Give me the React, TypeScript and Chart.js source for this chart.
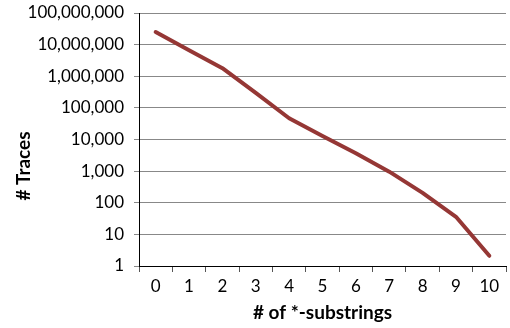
import React, { useEffect, useRef } from "react";
import { Chart, registerables } from "chart.js";

Chart.register(...registerables);

// Number of *-substrings on the x axis, and trace counts (log scale) on the y axis
const substringCounts = ["0", "1", "2", "3", "4", "5", "6", "7", "8", "9", "10"];
const traceCounts = [25000000, 6600000, 1800000, 300000, 47000, 13000, 3700, 960, 205, 36, 2.1];
const yTickValues = [1, 10, 100, 1000, 10000, 100000, 1000000, 10000000, 100000000];

const xTitle = "# of *-substrings";
const yTitle = "# Traces";

const FONT = "Lato";
const LINE_COLOR = "#953735";
const GRID_COLOR = "#888888";

// Draws the rotated y-axis title left of the tick labels
const yTitlePlugin = {
  id: "yTitle",
  afterDraw(chart: Chart) {
    const ctx = chart.ctx;
    ctx.save();
    ctx.translate(24, 166);
    ctx.rotate(-Math.PI / 2);
    ctx.font = `bold 19px ${FONT}`;
    ctx.fillStyle = "#000";
    ctx.textAlign = "center";
    ctx.textBaseline = "middle";
    ctx.fillText(yTitle, 0, 0);
    ctx.restore();
  },
};

export default function App() {
  const canvasRef = useRef<HTMLCanvasElement | null>(null);

  useEffect(() => {
    if (!canvasRef.current) return;
    const chart = new Chart(canvasRef.current, {
      type: "line",
      data: {
        labels: substringCounts,
        datasets: [
          {
            data: traceCounts,
            borderColor: LINE_COLOR,
            borderWidth: 4,
            borderCapStyle: "round",
            borderJoinStyle: "round",
            pointRadius: 0,
            tension: 0,
            fill: false,
          },
        ],
      },
      options: {
        animation: false,
        responsive: false,
        devicePixelRatio: 1,
        layout: { padding: { top: 13, right: 4, left: 0, bottom: 0 } },
        plugins: {
          legend: { display: false },
          tooltip: { enabled: false },
        },
        scales: {
          x: {
            type: "category",
            offset: true,
            grid: {
              offset: true,
              drawOnChartArea: false,
              drawTicks: true,
              tickLength: 6,
              color: "#555555",
            },
            border: { color: "#000000", width: 1 },
            ticks: {
              color: "#000",
              font: { family: FONT, size: 17 },
              padding: 4,
              maxRotation: 0,
              autoSkip: false,
            },
            title: {
              display: true,
              text: xTitle,
              color: "#000",
              font: { family: FONT, size: 19, weight: "bold" },
              padding: { top: 0, bottom: 4 },
            },
            afterFit(scale: any) {
              scale.height = 62;
            },
          },
          y: {
            type: "logarithmic",
            min: 1,
            max: 100000000,
            grid: {
              color: GRID_COLOR,
              lineWidth: 1,
              drawTicks: true,
              tickLength: 5,
            },
            border: { color: "#000000", width: 1 },
            ticks: {
              color: "#000",
              font: { family: FONT, size: 17 },
              padding: 10,
              callback: (v: any) => Number(v).toLocaleString("en-US"),
            },
            afterBuildTicks(scale: any) {
              scale.ticks = yTickValues.map((v) => ({ value: v, major: false }));
            },
            afterFit(scale: any) {
              scale.width = 139;
              scale.paddingTop = 0;
              scale.paddingBottom = 0;
            },
          },
        },
      },
      plugins: [yTitlePlugin],
    });
    return () => chart.destroy();
  }, []);

  return (
    <div style={{ position: "fixed", left: 0, top: 0, width: 510, height: 328, background: "#fff" }}>
      <canvas ref={canvasRef} width={510} height={328} style={{ width: 510, height: 328 }} />
    </div>
  );
}
